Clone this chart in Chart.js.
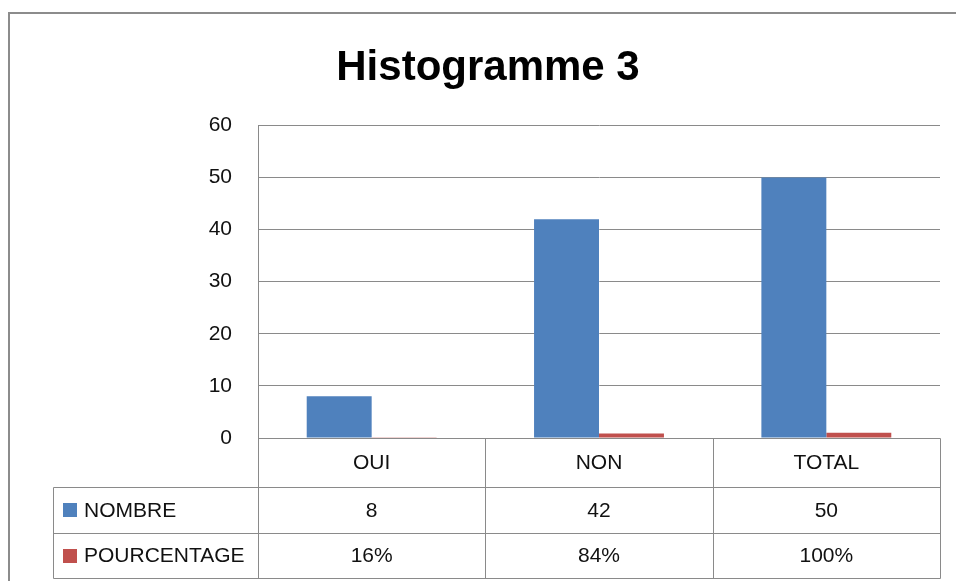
<!DOCTYPE html>
<html>
<head>
<meta charset="utf-8">
<script src="https://cdn.jsdelivr.net/npm/chart.js@4"></script>
<style>
  html, body { margin: 0; padding: 0; background: #fff; }
  #wrap { width: 956px; height: 581px; }
</style>
</head>
<body>
<div id="wrap"><canvas id="myChart" width="956" height="581"></canvas></div>
<script>
// Data
const categories = ['OUI', 'NON', 'TOTAL'];
const nombre = [8, 42, 50];
const pourcentage = [0.16, 0.84, 1];
const yTicks = [0, 10, 20, 30, 40, 50, 60];

const blue = '#4F81BD';
const red = '#C0504D';
const lineGray = '#8a8a8a';
const textFont = '21px "Liberation Sans", Arial, sans-serif';

// draws the outer frame and the data table under the plot
const tablePlugin = {
    id: 'dataTable',
    beforeDraw(chart) {
        const ctx = chart.ctx;
        ctx.save();
        ctx.fillStyle = '#fff';
        ctx.fillRect(0, 0, chart.width, chart.height);
        ctx.strokeStyle = '#8c8c8c';
        ctx.lineWidth = 2;
        ctx.strokeRect(9, 13, chart.width + 20, chart.height + 20);
        ctx.restore();
    },
    afterDraw(chart) {
        const ctx = chart.ctx;
        const area = chart.chartArea;
        const x = chart.scales.x;
        const rowH = [49, 46, 45];
        const top = area.bottom;
        const r1 = top + rowH[0], r2 = r1 + rowH[1], r3 = r2 + rowH[2];
        const tableLeft = 53;

        // column edges
        const edges = [area.left];
        for (let i = 0; i < categories.length - 1; i++) {
            edges.push((x.getPixelForValue(i) + x.getPixelForValue(i + 1)) / 2);
        }
        edges.push(area.right);

        ctx.save();
        ctx.strokeStyle = lineGray;
        ctx.lineWidth = 1;
        const line = (x1, y1, x2, y2) => {
            ctx.beginPath();
            ctx.moveTo(Math.round(x1) + 0.5, Math.round(y1) + 0.5);
            ctx.lineTo(Math.round(x2) + 0.5, Math.round(y2) + 0.5);
            ctx.stroke();
        };
        line(area.left, top, area.right, top);
        [r1, r2, r3].forEach(y => line(tableLeft, y, area.right, y));
        line(tableLeft, r1, tableLeft, r3);
        edges.forEach(e => line(e, top, e, r3));

        ctx.fillStyle = '#111';
        ctx.font = textFont;
        ctx.textAlign = 'center';
        ctx.textBaseline = 'middle';
        categories.forEach((c, i) => {
            const cx = (edges[i] + edges[i + 1]) / 2;
            ctx.fillText(c, cx, top + rowH[0] / 2 + 1);
            ctx.fillText(String(nombre[i]), cx, r1 + rowH[1] / 2 + 1);
            ctx.fillText(Math.round(pourcentage[i] * 100) + '%', cx, r2 + rowH[2] / 2 + 1);
        });

        // legend keys
        const rows = [
            { label: chart.data.datasets[0].label, color: blue, y: r1 + rowH[1] / 2 },
            { label: chart.data.datasets[1].label, color: red, y: r2 + rowH[2] / 2 }
        ];
        ctx.textAlign = 'left';
        rows.forEach(r => {
            ctx.fillStyle = r.color;
            ctx.fillRect(63, Math.round(r.y - 7), 14, 14);
            ctx.fillStyle = '#111';
            ctx.fillText(r.label, 84, r.y + 1);
        });
        ctx.restore();
    }
};

const data = {
    labels: categories,
    datasets: [{
        label: 'NOMBRE',
        backgroundColor: blue,
        data: nombre
    }, {
        label: 'POURCENTAGE',
        backgroundColor: red,
        data: pourcentage
    }]
};

const config = {
    type: 'bar',
    data: data,
    options: {
        responsive: false,
        animation: false,
        layout: {
            padding: { left: 36, right: 16, top: 12, bottom: 143 }
        },
        datasets: {
            bar: {
                categoryPercentage: 1 / 1.75,
                barPercentage: 1
            }
        },
        plugins: {
            legend: { display: false },
            tooltip: { enabled: false },
            title: {
                display: true,
                text: 'Histogramme 3',
                color: '#000',
                font: { family: '"Liberation Sans", Arial, sans-serif', size: 42, weight: 'bold', lineHeight: 1.2 },
                padding: { top: 31, bottom: 32 }
            }
        },
        scales: {
            x: {
                display: false
            },
            y: {
                min: 0,
                max: 60,
                afterBuildTicks(scale) {
                    scale.ticks = yTicks.map(v => ({ value: v }));
                },
                afterFit(scale) {
                    scale.width = 222;
                },
                border: { display: true, color: lineGray, width: 1 },
                grid: { color: lineGray, drawTicks: false },
                ticks: {
                    color: '#111',
                    padding: 26,
                    font: { family: '"Liberation Sans", Arial, sans-serif', size: 21 }
                }
            }
        }
    },
    plugins: [tablePlugin]
};

const myChart = new Chart(
    document.getElementById('myChart'),
    config
);
</script>
</body>
</html>
